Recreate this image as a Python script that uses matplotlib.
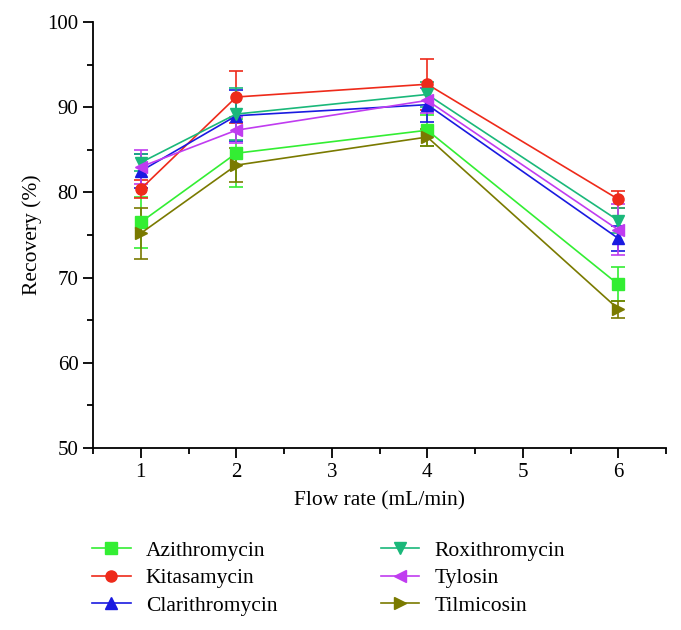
import matplotlib
matplotlib.use("Agg")
import matplotlib.pyplot as plt
from matplotlib.ticker import MultipleLocator
from matplotlib.lines import Line2D

plt.rcParams['font.family'] = ['Liberation Serif', 'DejaVu Serif']

flow = [1, 2, 4, 6]
names = ["Azithromycin", "Kitasamycin", "Clarithromycin", "Roxithromycin", "Tylosin", "Tilmicosin"]
azi = [76.5, 84.6, 87.3, 69.2]
azi_err = [3.0, 4.0, 1.8, 2.0]
kit = [80.4, 91.2, 92.7, 79.2]
kit_err = [1.0, 3.0, 3.0, 1.0]
cla = [82.5, 89.0, 90.3, 74.6]
cla_err = [2.0, 3.0, 2.0, 1.5]
rox = [83.5, 89.2, 91.5, 76.7]
rox_err = [1.0, 3.0, 1.5, 1.5]
tyl = [83.0, 87.3, 90.8, 75.6]
tyl_err = [2.0, 1.5, 1.5, 3.0]
til = [75.2, 83.2, 86.5, 66.3]
til_err = [3.0, 2.0, 1.0, 1.0]

series = [azi, kit, cla, rox, tyl, til]
errs = [azi_err, kit_err, cla_err, rox_err, tyl_err, til_err]
colors = ["#33ee33", "#ee2a1a", "#1a1ae0", "#1ab87a", "#c03cf0", "#7a7a00"]
markers = ["s", "o", "^", "v", "<", ">"]

fig = plt.figure(figsize=(6.81, 6.30), dpi=100)
ax = fig.add_axes([0.1366, 0.289, 0.978 - 0.1366, 0.965 - 0.289])

handles = []
for name, y, e, c, m in zip(names, series, errs, colors, markers):
    ax.errorbar(flow, y, yerr=e, color=c, marker=m, markersize=8, lw=1.2,
                capsize=5, elinewidth=1.2, capthick=1.2, label=name)
    handles.append(Line2D([], [], color=c, marker=m, markersize=8, lw=1.2))

ax.set_xlim(0.5, 6.5)
ax.set_ylim(50, 100)
ax.xaxis.set_major_locator(MultipleLocator(1))
ax.xaxis.set_minor_locator(MultipleLocator(0.5))
ax.yaxis.set_major_locator(MultipleLocator(10))
ax.yaxis.set_minor_locator(MultipleLocator(5))
ax.set_xticks([1, 2, 3, 4, 5, 6])
ax.spines['top'].set_visible(False)
ax.spines['right'].set_visible(False)
for s in ['left', 'bottom']:
    ax.spines[s].set_linewidth(1.3)
ax.tick_params(which='major', direction='out', length=7, width=1.3, labelsize=15)
ax.tick_params(which='minor', direction='out', length=4, width=1.3)
ax.set_xlabel("Flow rate (mL/min)", fontsize=15.5, labelpad=7)
ax.set_ylabel("Recovery (%)", fontsize=15.5, labelpad=4)

leg = fig.legend(handles=handles, labels=names, ncol=2, frameon=False,
                 loc='upper left', bbox_to_anchor=(0.135, 0.142),
                 fontsize=15.5, handlelength=1.8, handletextpad=0.7,
                 columnspacing=4.8, labelspacing=0.35, borderpad=0,
                 borderaxespad=0)

fig.savefig("out.png", dpi=100)
